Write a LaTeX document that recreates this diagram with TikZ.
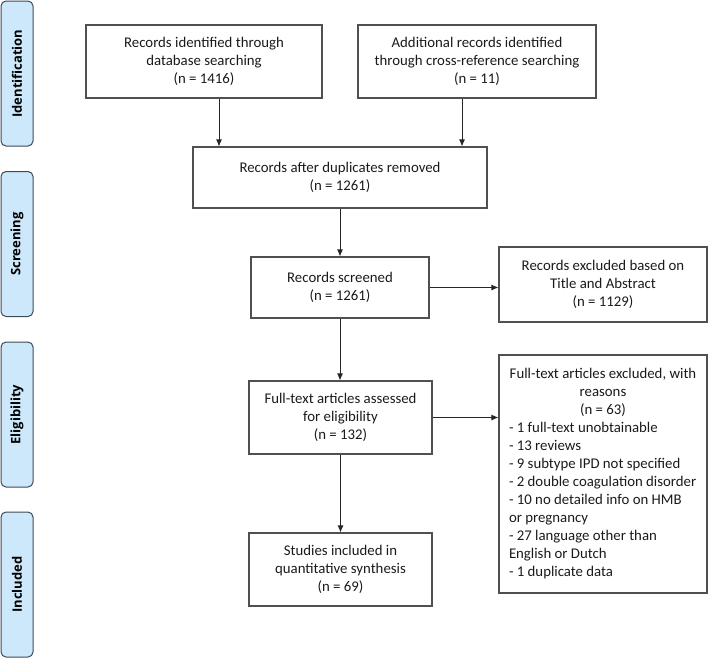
\documentclass[tikz,border=0pt]{standalone}
\usepackage{fontspec}
\setmainfont{Carlito}
\newfontfamily\lblfont{Open Sans}
\usetikzlibrary{arrows.meta}
\definecolor{barfill}{HTML}{CDE8FB}
\definecolor{barline}{HTML}{3E4A56}
\definecolor{boxline}{HTML}{505050}
\definecolor{txt}{HTML}{1A1A1A}
\tikzset{
  box/.style={draw=boxline, line width=1.1pt, rectangle, inner sep=0pt, align=center, text=txt,
    font=\fontsize{14.8}{18}\selectfont},
  bar/.style={draw=barline, fill=barfill, line width=1pt, rounded corners=5pt, minimum width=32pt,
    minimum height=145pt, inner sep=0pt},
  barlabel/.style={rotate=90, font=\lblfont\bfseries\fontsize{13}{15}\selectfont, text=black},
  arr/.style={draw=black!85, line width=0.9pt, -{Latex[length=7pt,width=6pt]}}
}
\begin{document}
\begin{tikzpicture}[x=1pt,y=-1pt]
\useasboundingbox (0,0) rectangle (709,659);
% side bars
\node[bar] (s1) at (17,73.5) {};
\node[barlabel] (l1) at (s1.center) {Identification};
\node[bar] (s2) at (17,244) {};
\node[barlabel] (l2) at (s2.center) {Screening};
\node[bar] (s3) at (17,414.5) {};
\node[barlabel] (l3) at (s3.center) {Eligibility};
\node[bar] (s4) at (17,584.5) {};
\node[barlabel] (l4) at (s4.center) {Included};
% boxes
\node[box, minimum width=236pt, minimum height=73pt] (b1) at (204,61.5)
  {Records identified through\\database searching\\(n = 1416)};
\node[box, minimum width=238pt, minimum height=73pt] (b2) at (477,61.5)
  {Additional records identified\\through cross-reference searching\\(n = 11)};
\node[box, minimum width=294pt, minimum height=61pt] (b3) at (340,177.5)
  {Records after duplicates removed\\(n = 1261)};
\node[box, minimum width=178pt, minimum height=61pt] (b4) at (340,287.5)
  {Records screened\\(n = 1261)};
\node[box, minimum width=208pt, minimum height=75pt] (b5) at (603,284.5)
  {Records excluded based on\\Title and Abstract\\(n = 1129)};
\node[box, minimum width=183pt, minimum height=73pt] (b6) at (340.5,417.5)
  {Full-text articles assessed\\for eligibility\\(n = 132)};
\node[box, minimum width=208pt, minimum height=238pt, align=left] (b7) at (603,474)
  {\makebox[188pt][c]{Full-text articles excluded, with}\\
   \makebox[188pt][c]{reasons}\\
   \makebox[188pt][c]{(n = 63)}\\
   - 1 full-text unobtainable\\
   - 13 reviews\\
   - 9 subtype IPD not specified\\
   - 2 double coagulation disorder\\
   - 10 no detailed info on HMB\\
   or pregnancy\\
   - 27 language other than\\
   English or Dutch\\
   - 1 duplicate data};
\node[box, minimum width=183pt, minimum height=73pt] (b8) at (340.5,569.5)
  {Studies included in\\quantitative synthesis\\(n = 69)};
% connectors
\coordinate (c1) at (219,0);
\coordinate (c2) at (462,0);
\draw[arr] (b1.south -| c1) -- (b3.north -| c1);
\draw[arr] (b2.south -| c2) -- (b3.north -| c2);
\draw[arr] (b3.south) -- (b4.north);
\draw[arr] (b4.east) -- (b4.east -| b5.west);
\draw[arr] (b4.south) -- (b6.north -| b4.south);
\draw[arr] (b6.east) -- (b6.east -| b7.west);
\draw[arr] (b6.south) -- (b8.north);
\end{tikzpicture}
\end{document}
